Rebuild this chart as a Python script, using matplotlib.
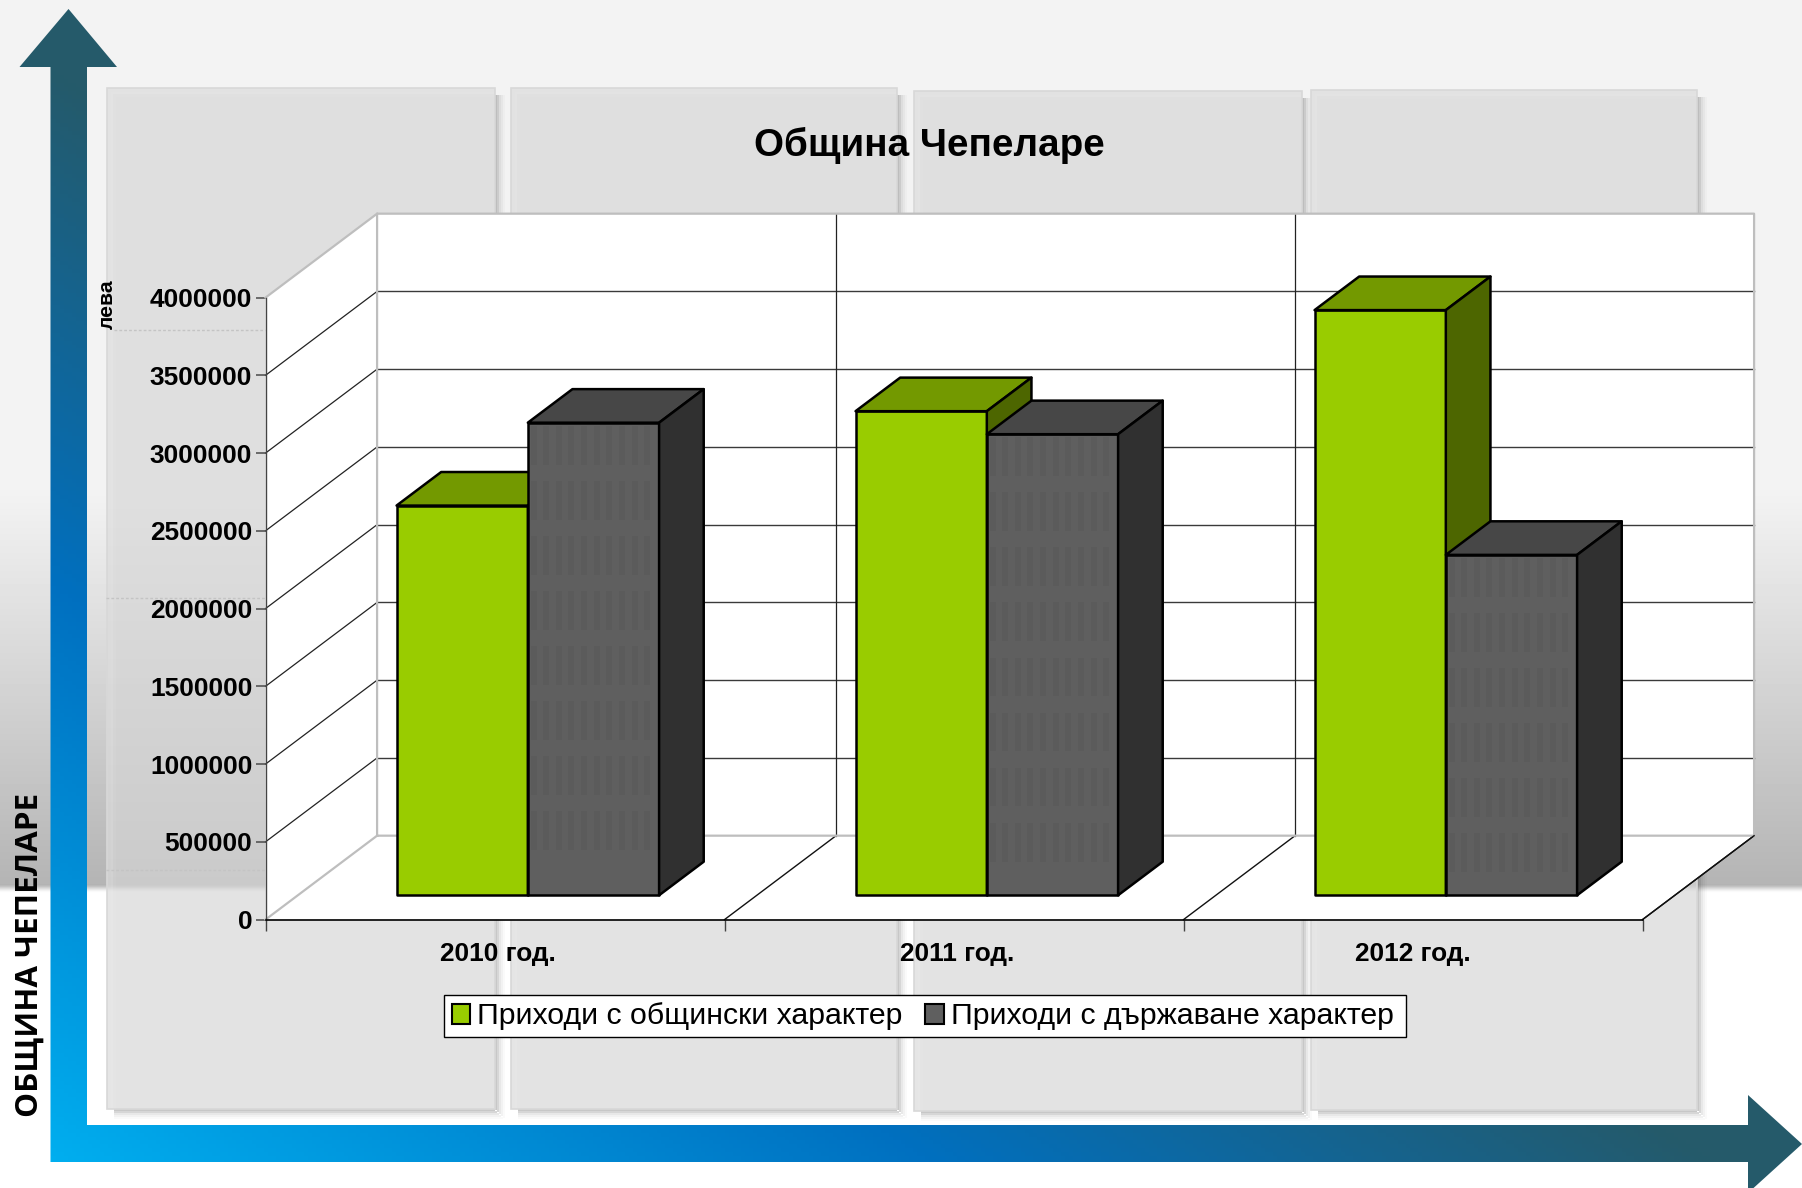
import numpy as np
import matplotlib
matplotlib.use('Agg')
import matplotlib.pyplot as plt
from matplotlib.colors import LinearSegmentedColormap
from matplotlib.patches import Polygon, Rectangle, PathPatch
from matplotlib.path import Path

W, H = 1802, 1188

# Chart data
years = ['2010 год.', '2011 год.', '2012 год.']
municipal = [2506000, 3113000, 3763000]
state = [3039000, 2965000, 2189000]
series_names = ['Приходи с общински характер', 'Приходи с държаване характер']
y_ticks = [0, 500000, 1000000, 1500000, 2000000, 2500000, 3000000, 3500000, 4000000]

title = 'Община Чепеларе'
y_name = 'лева'
side_name = 'ОБЩИНА ЧЕПЕЛАРЕ'

# Decoration panels behind the chart (x0, x1, y0, y1) in pixels
panels = [(107, 495, 88, 1109), (511, 897, 88, 1109),
          (914, 1302, 91, 1111), (1311, 1697, 90, 1110)]

GREEN = ('#99CC00', '#739900', '#4D6600')
GREY = ('#5F5F5F', '#474747', '#303030')

# Oblique projection: one unit of depth moves this far in data units
DEPTH_X = 0.2431
DEPTH_Y = 539700
BAR_W = 0.286
BAR_X0 = 0.215
BAR_D0 = 0.29
BAR_D1 = 0.69


def proj(x, y, d):
    return (x + d * DEPTH_X, y + d * DEPTH_Y)


def draw_bar(ax, x, value, cols, textured=False):
    a = proj(x, 0, BAR_D0)
    b = proj(x + BAR_W, 0, BAR_D0)
    c = proj(x + BAR_W, value, BAR_D0)
    d = proj(x, value, BAR_D0)
    e = proj(x, value, BAR_D1)
    f = proj(x + BAR_W, value, BAR_D1)
    g = proj(x + BAR_W, 0, BAR_D1)
    style = dict(ec='black', lw=1.8, joinstyle='round', clip_on=False, zorder=3)
    ax.add_patch(Polygon([a, b, c, d], fc=cols[0], **style))
    ax.add_patch(Polygon([d, c, f, e], fc=cols[1], **style))
    ax.add_patch(Polygon([b, g, f, c], fc=cols[2], **style))
    if textured:
        # faint vertical stripes in bands, as in the original fill
        band_h = 250000
        band_step = 354000
        stripe_w = 0.0131
        level = value - 20000
        while level - band_h > 40000:
            for i in range(10):
                sx = x + 0.006 + i * 0.0275
                p = proj(sx, level - band_h, BAR_D0)
                ax.add_patch(Rectangle(p, stripe_w, band_h, fc='black', ec='none',
                                       alpha=0.035, clip_on=False, zorder=3.1))
            level -= band_step


fig = plt.figure(figsize=(W / 100, H / 100), dpi=100, facecolor='white')
plt.rcParams['font.family'] = ['Liberation Sans', 'DejaVu Sans']

# Background layer in pixel coordinates
bg = fig.add_axes([0, 0, 1, 1], zorder=0)
bg.axis('off')

grad = np.ones((H, 1)) * 255.0
grad[:490] = 243
ramp = (np.arange(490, 885) - 490) / (885 - 490)
grad[490:885, 0] = 243 - (243 - 180) * ramp
grad[885:893, 0] = [186, 196, 208, 220, 232, 242, 250, 254]
bg.imshow(grad, cmap='gray', vmin=0, vmax=255, extent=[0, W, H, 0], aspect='auto', zorder=0)

for x0, x1, y0, y1 in panels:
    # soft shadow on right and bottom
    for off, alpha in [(1, 0.22), (3, 0.16), (5, 0.09), (7, 0.05), (9, 0.02)]:
        bg.add_patch(Rectangle((x1 + off - 1, y0 + 7), 2, y1 - y0 + off - 7, fc='black', ec='none',
                               alpha=alpha, zorder=1))
        bg.add_patch(Rectangle((x0 + 7, y1 + off - 1), x1 - x0 + off - 8, 2, fc='black', ec='none',
                               alpha=alpha, zorder=1))
    # translucent so the grey background shows through
    bg.add_patch(Rectangle((x0, y0), x1 - x0, y1 - y0, fc='#D6D6D6', ec='none', alpha=0.667, zorder=1.2))
    for inset, alpha in [(1, 0.10), (4, 0.05)]:
        bg.add_patch(Rectangle((x0 + inset, y0 + inset), 5, y1 - y0 - inset, fc='white', ec='none',
                               alpha=alpha, zorder=1.3))
        bg.add_patch(Rectangle((x0 + inset + 5, y0 + inset), x1 - x0 - inset - 5, 5, fc='white', ec='none',
                               alpha=alpha, zorder=1.3))
    bg.add_patch(Rectangle((x0, y0), x1 - x0, y1 - y0, fc='none', ec='#D8D8D8', lw=1.2, zorder=1.4))

# dashed leftovers left of the chart
for yy, xa in [(330, 114), (598, 106), (870, 106)]:
    bg.plot([xa, 266], [yy, yy], color='#C4C4C4', lw=1, ls=(0, (2, 1.5)), zorder=1.7)

# L-shaped double arrow with a diagonal gradient
arrow_pts = [(50.5, 1162), (50.5, 67), (19.5, 67), (68.5, 9), (117, 67), (87, 67),
             (87, 1125), (1748, 1125), (1748, 1095), (1802, 1144), (1748, 1193),
             (1748, 1162), (50.5, 1162)]
arrow = PathPatch(Path(arrow_pts, closed=True), fc='none', ec='none', zorder=2, transform=bg.transData)
bg.add_patch(arrow)
xx, yy = np.meshgrid(np.linspace(0, W, 450), np.linspace(0, H, 300))
t = np.clip((xx - 50) / 1752 + (1162 - yy) / 1153, 0, 1)
arrow_cmap = LinearSegmentedColormap.from_list('arrow', [(0, '#00AEEF'), (0.5, '#0070C0'), (0.95, '#255A6A'), (1, '#255A6A')])
im = bg.imshow(t, cmap=arrow_cmap, vmin=0, vmax=1, extent=[0, W, H, 0], aspect='auto', zorder=2)
im.set_clip_path(arrow)

bg.set_xlim(0, W)
bg.set_ylim(H, 0)

bg.text(929, 145, title, ha='center', va='center', fontsize=27.8, fontweight='bold', zorder=5)
bg.text(107, 304, y_name, rotation=90, ha='center', va='center', fontsize=15.2, fontweight='bold', zorder=5)
bg.text(30, 955, side_name, rotation=90, ha='center', va='center', fontsize=22.6, fontweight='bold',
        family=['Open Sans', 'DejaVu Sans'], zorder=5)

# legend frame, sized apart from the entries
bg.add_patch(Rectangle((443.6, 995), 962, 41.5, fc='white', ec='black', lw=1, zorder=5))

# Main chart axes: front plane of the 3D box
ax = fig.add_axes([265.5 / W, 1 - 919.6 / H, 1377 / W, 622 / H], zorder=1)
ax.patch.set_visible(False)
ax.set_xlim(0, 3)
ax.set_ylim(0, 4000000)

WALL = '#BEBEBE'
top_val = y_ticks[-1]
ax.add_patch(Polygon([proj(0, 0, 1), proj(3, 0, 1), proj(3, top_val, 1), proj(0, top_val, 1)],
                     fc='white', ec='none', clip_on=False, zorder=1))
ax.add_patch(Polygon([proj(0, 0, 0), proj(0, 0, 1), proj(0, top_val, 1), proj(0, top_val, 0)],
                     fc='white', ec='none', clip_on=False, zorder=1))
ax.add_patch(Polygon([proj(0, 0, 0), proj(3, 0, 0), proj(3, 0, 1), proj(0, 0, 1)],
                     fc='white', ec='none', clip_on=False, zorder=1))

# gridlines on back and side walls
for v in y_ticks[1:-1]:
    ax.plot(*zip(proj(0, v, 1), proj(3, v, 1)), color='#3A3A3A', lw=1, clip_on=False, zorder=1.5)
    ax.plot(*zip(proj(0, v, 0), proj(0, v, 1)), color='#222222', lw=0.9, clip_on=False, zorder=1.5)
for c in [1, 2]:
    ax.plot(*zip(proj(c, 0, 1), proj(c, top_val, 1)), color='#222222', lw=0.9, clip_on=False, zorder=1.5)
for c in [1, 2, 3]:
    ax.plot(*zip(proj(c, 0, 0), proj(c, 0, 1)), color='#111111', lw=1, clip_on=False, zorder=1.5)

# grey box outline
ax.plot(*zip(proj(0, 0, 0), proj(0, 0, 1), proj(3, 0, 1), proj(3, top_val, 1), proj(0, top_val, 1),
             proj(0, 0, 1)), color=WALL, lw=1.6, clip_on=False, zorder=1.6)
ax.plot(*zip(proj(0, top_val, 0), proj(0, top_val, 1)), color=WALL, lw=1.6, clip_on=False, zorder=1.6)
ax.plot(*zip(proj(3, 0, 0), proj(3, 0, 1)), color='#111111', lw=1, clip_on=False, zorder=1.7)

for i in range(len(years)):
    draw_bar(ax, i + BAR_X0, municipal[i], GREEN)
    draw_bar(ax, i + BAR_X0 + BAR_W, state[i], GREY, textured=True)

for name in ['top', 'right']:
    ax.spines[name].set_visible(False)
ax.spines['left'].set_color('#444444')
ax.spines['left'].set_linewidth(1)
ax.spines['bottom'].set_color('black')
ax.spines['bottom'].set_linewidth(1.2)

ax.set_yticks(y_ticks)
ax.set_yticklabels([str(v) for v in y_ticks], fontsize=18.9, fontweight='bold')
ax.tick_params(axis='y', length=7, width=1.2, color='#555555', pad=2.5)
ax.set_xticks([0, 1, 2, 3])
ax.set_xticklabels([])
ax.tick_params(axis='x', which='major', length=8, width=1, color='#444444')
ax.set_xticks([0.506, 1.507, 2.5], minor=True)
ax.set_xticklabels(years, minor=True, fontsize=18.9, fontweight='bold')
ax.tick_params(axis='x', which='minor', length=0, pad=16)

handles = [Rectangle((0, 0), 1, 1, fc=GREEN[0], ec='black', lw=1.5),
           Rectangle((0, 0), 1, 1, fc=GREY[0], ec='black', lw=1.5)]
leg = ax.legend(handles, series_names, ncol=2, loc='center', fontsize=21.8,
                bbox_to_anchor=((922.6 - 265.5) / 1377, -(1016.5 - 919.6) / 622),
                frameon=False,
                handlelength=0.62, handleheight=0.62, handletextpad=0.22, columnspacing=0.75,
                borderpad=0.18, borderaxespad=0)

fig.savefig('out.png', dpi=100)
